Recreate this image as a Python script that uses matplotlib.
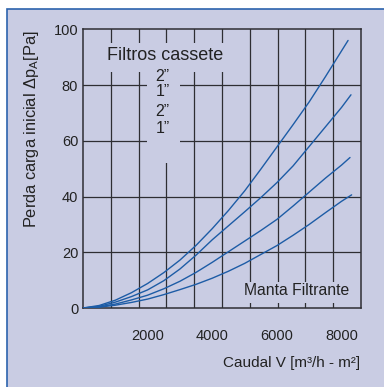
import numpy as np
import matplotlib
matplotlib.use("Agg")
import matplotlib.pyplot as plt
from matplotlib.patches import Rectangle

plt.rcParams['font.family'] = ['Liberation Sans', 'DejaVu Sans']
plt.rcParams['mathtext.fontset'] = 'custom'
plt.rcParams['mathtext.rm'] = 'Liberation Sans'

# caudal [m3/h-m2] e perda de carga [Pa] por filtro
caudal = [0, 500, 1000, 1500, 2000, 2500, 3000, 3500, 4000,
          4500, 5000, 5500, 6000, 6500, 7000, 7500, 8000]

perda_cassete_2 = [0, 0.9, 2.8, 5.5, 8.8, 12.7, 17.2, 22.5, 28.5,
                   35.0, 42.0, 49.8, 57.8, 65.8, 74.0, 83.0, 92.3]
fim_cassete_2 = (8200, 96.0)

perda_cassete_1 = [0, 0.6, 2.1, 4.1, 6.5, 9.8, 14.0, 19.0, 24.5,
                   29.5, 34.5, 39.6, 45.0, 51.0, 58.0, 65.0, 72.0]
fim_cassete_1 = (8290, 76.5)

perda_manta_2 = [0, 0.4, 1.4, 2.9, 4.6, 6.9, 9.6, 12.8, 16.4,
                 20.2, 24.0, 27.8, 31.8, 36.6, 41.6, 46.6, 51.3]
fim_manta_2 = (8260, 54.0)

perda_manta_1 = [0, 0.3, 1.0, 2.0, 3.2, 4.8, 6.6, 8.5, 10.7,
                 13.2, 16.0, 19.2, 22.4, 26.1, 30.0, 34.2, 38.3]
fim_manta_1 = (8310, 40.6)

etiquetas_cassete = ['2”', '1”', '2”', '1”']
x_ticks = [2000, 4000, 6000, 8000]
y_ticks = [0, 20, 40, 60, 80, 100]
x_max = 8600

fundo = '#c9cce3'
azul = '#1d5ca6'
grelha = '#2e2e33'

fig = plt.figure(figsize=(3.84, 3.87), dpi=100, facecolor='white')

# moldura azul com fundo lilás
fig.patches.append(Rectangle((6.5 / 384, -0.1), 1.2, 1.1 - 9.5 / 387,
                             transform=fig.transFigure, facecolor=fundo,
                             edgecolor='#2c63ad', linewidth=1.2, zorder=-5))

ax = fig.add_axes([83 / 384, 79 / 387, 278 / 384, 278.7 / 387])
ax.set_facecolor(fundo)
ax.set_xlim(0, x_max)
ax.set_ylim(0, 100)

for s in ax.spines.values():
    s.set_color(grelha)
    s.set_linewidth(1.1)

# grelha: 10 divisões na horizontal, 20 Pa na vertical
for gx in np.linspace(0, x_max, 11)[1:-1]:
    ax.axvline(gx, color=grelha, lw=0.9, zorder=1)
for gy in y_ticks[1:-1]:
    ax.axhline(gy, color=grelha, lw=0.9, zorder=1)

# zonas limpas por trás dos textos
for (x0, y0, w, h) in [(0.0755, 0.847, 0.4385, 0.104),
                       (0.230, 0.520, 0.119, 0.334),
                       (0.565, 0.019, 0.403, 0.075)]:
    ax.add_patch(Rectangle((x0, y0), w, h, transform=ax.transAxes,
                           facecolor=fundo, edgecolor='none', zorder=2))

for ys, fim in [(perda_cassete_2, fim_cassete_2),
                (perda_cassete_1, fim_cassete_1),
                (perda_manta_2, fim_manta_2),
                (perda_manta_1, fim_manta_1)]:
    ax.plot(caudal + [fim[0]], ys + [fim[1]], color=azul, lw=1.0,
            zorder=3, solid_capstyle='round', solid_joinstyle='round')

ax.set_xticks(x_ticks)
ax.set_yticks(y_ticks)
ax.tick_params(length=0, labelsize=10.5, colors='#222222')
ax.tick_params(axis='x', pad=15)
ax.tick_params(axis='y', pad=3.5)

ax.text(0.295, 0.905, 'Filtros cassete', transform=ax.transAxes,
        ha='center', va='center', fontsize=13, color='#222222', zorder=4)
for lab, yp in zip(etiquetas_cassete, [0.830, 0.777, 0.705, 0.645]):
    ax.text(0.286, yp, lab, transform=ax.transAxes, ha='center',
            va='center', fontsize=11.5, color='#222222', zorder=4)
ax.text(0.768, 0.062, 'Manta Filtrante', transform=ax.transAxes,
        ha='center', va='center', fontsize=11.3, color='#222222', zorder=4)

fig.text(360 / 384, 1 - 363 / 387, 'Caudal V [m³/h - m²]', ha='right',
         va='center', fontsize=11, color='#222222')
fig.text(32 / 384, 1 - 30 / 387, r'Perda carga inicial $\Delta$p$_\mathrm{A}$[Pa]',
         rotation=90, ha='center', va='top', fontsize=11.8, color='#222222')

fig.savefig('out.png', dpi=100, facecolor='white')
